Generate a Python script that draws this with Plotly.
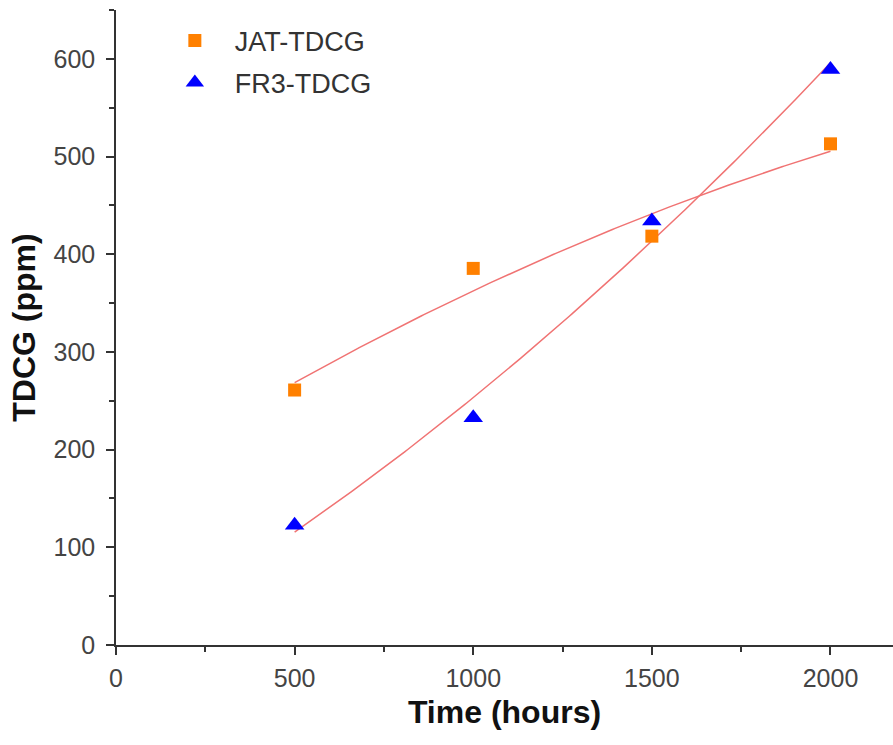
import numpy as np
import plotly.graph_objects as go

time_hours = [500, 1000, 1500, 2000]
jat_tdcg = [261, 385.5, 418.5, 513]
fr3_tdcg = [122.5, 232.5, 434, 589]

x_ticks = [0, 500, 1000, 1500, 2000]
y_ticks = [0, 100, 200, 300, 400, 500, 600]

# quadratic fits of each series (drawn as the red curves)
xf = np.linspace(min(time_hours), max(time_hours), 200)
jat_fit = np.polyval(np.polyfit(time_hours, jat_tdcg, 2), xf)
fr3_fit = np.polyval(np.polyfit(time_hours, fr3_tdcg, 2), xf)

FONT = "Arial, Liberation Sans, sans-serif"
fit_color = "rgb(240,115,115)"

fig = go.Figure()
fig.add_trace(go.Scatter(x=xf, y=jat_fit, mode="lines", line=dict(color=fit_color, width=1.5),
                         showlegend=False, hoverinfo="skip"))
fig.add_trace(go.Scatter(x=xf, y=fr3_fit, mode="lines", line=dict(color=fit_color, width=1.5),
                         showlegend=False, hoverinfo="skip"))
fig.add_trace(go.Scatter(x=time_hours, y=jat_tdcg, mode="markers", name="JAT-TDCG", legendgroup="a",
                         marker=dict(symbol="square", size=13, color="rgb(255,128,0)")))
fig.add_trace(go.Scatter(x=time_hours, y=fr3_tdcg, mode="markers", name="FR3-TDCG", legendgroup="b",
                         marker=dict(symbol="triangle-up", size=17, color="rgb(0,0,255)")))

axis_common = dict(
    showline=True, linecolor="#333333", linewidth=1.5,
    ticks="outside", ticklen=8, tickwidth=1.5, tickcolor="#333333",
    showgrid=False, zeroline=False,
    tickfont=dict(family=FONT, size=25, color="#444444"),
)

fig.update_xaxes(
    range=[0, 2175], tickvals=x_ticks, ticktext=[str(v) for v in x_ticks],
    minor=dict(ticks="outside", ticklen=5, tickwidth=1.5, tickcolor="#333333", dtick=250, tick0=0),
    ticklabelstandoff=2,
    title=dict(text="<b>Time (hours)</b>", font=dict(family=FONT, size=32, color="#111111"), standoff=10),
    **axis_common,
)
fig.update_yaxes(
    range=[0, 650], tickvals=y_ticks, ticktext=[str(v) for v in y_ticks],
    minor=dict(ticks="outside", ticklen=5, tickwidth=1.5, tickcolor="#333333", dtick=50, tick0=0),
    ticklabelstandoff=6,
    title=dict(text="<b>TDCG (ppm)</b>", font=dict(family=FONT, size=32, color="#111111"), standoff=8),
    **axis_common,
)

fig.update_layout(
    width=893, height=745,
    margin=dict(l=116, r=0, t=10, b=100),
    paper_bgcolor="white", plot_bgcolor="white",
    legend=dict(x=0.050, y=0.99, xanchor="left", yanchor="top",
                font=dict(family=FONT, size=27, color="#333333"),
                itemwidth=70, tracegroupgap=4, bgcolor="rgba(0,0,0,0)"),
)

fig.write_html("out.html")
